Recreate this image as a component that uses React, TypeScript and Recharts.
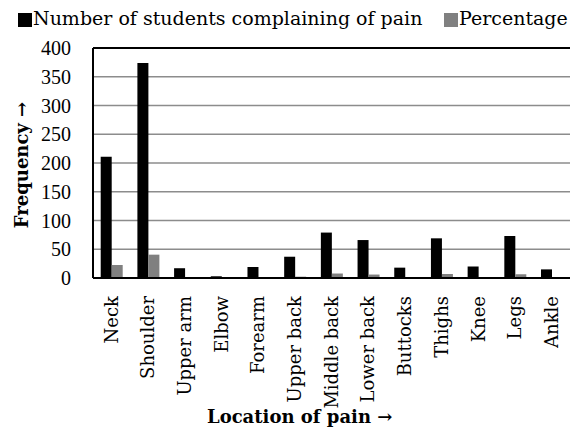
import { BarChart, Bar, XAxis, YAxis, CartesianGrid, ReferenceLine } from "recharts";

const locations = [
  "Neck",
  "Shoulder",
  "Upper arm",
  "Elbow",
  "Forearm",
  "Upper back",
  "Middle back",
  "Lower back",
  "Buttocks",
  "Thighs",
  "Knee",
  "Legs",
  "Ankle",
];
const students = [211, 374, 17, 3, 19, 37, 79, 66, 18, 69, 20, 73, 15];
const percentage = [22.6, 40.6, 0.5, 0.2, 0.8, 2.3, 7.8, 6, 0.5, 7, 0.5, 6.5, 0.5];
const yTicks = [0, 50, 100, 150, 200, 250, 300, 350, 400];

const data = locations.map((name, i) => ({
  name,
  students: students[i],
  percentage: percentage[i],
}));

const WORD_FONT = "'DejaVu Serif', serif";
const NUM_FONT = "'Liberation Serif', serif";

// rotated category labels reading bottom-to-top
const CategoryTick = (props: any) => {
  const { x, y, payload } = props;
  return (
    <text
      x={x}
      y={y}
      transform={`rotate(-90, ${x}, ${y})`}
      textAnchor="end"
      dy="0.35em"
      fontFamily={WORD_FONT}
      fontSize={18}
      fill="#000"
    >
      {payload.value}
    </text>
  );
};

export default function App() {
  return (
    <div
      style={{
        position: "absolute",
        left: 0,
        top: 0,
        width: 570,
        height: 434,
        background: "#fff",
        fontFamily: WORD_FONT,
      }}
    >
      {/* legend */}
      <div style={{ position: "absolute", top: 13, left: 18, width: 14, height: 14, background: "#000" }} />
      <div style={{ position: "absolute", top: 6, left: 33, fontSize: 19, lineHeight: "24px", whiteSpace: "nowrap" }}>
        Number of students complaining of pain
      </div>
      <div style={{ position: "absolute", top: 13, left: 444, width: 14, height: 14, background: "#808080" }} />
      <div style={{ position: "absolute", top: 6, left: 459, fontSize: 19, lineHeight: "24px", whiteSpace: "nowrap" }}>
        Percentage
      </div>

      <BarChart
        width={570}
        height={434}
        data={data}
        margin={{ top: 48, right: 0, left: 0, bottom: 30 }}
        barCategoryGap="21%"
        barGap={0}
      >
        <CartesianGrid vertical={false} stroke="#8c8c8c" strokeWidth={1.3} />
        <XAxis
          dataKey="name"
          interval={0}
          height={126}
          tick={<CategoryTick />}
          tickLine={false}
          tickMargin={12}
          axisLine={{ stroke: "#000", strokeWidth: 2 }}
        />
        <YAxis
          domain={[0, 400]}
          ticks={yTicks}
          width={93}
          tickLine={false}
          tickMargin={16}
          axisLine={{ stroke: "#000", strokeWidth: 2 }}
          tick={{ fontFamily: NUM_FONT, fontSize: 20, fill: "#000" }}
        />
        <ReferenceLine y={400} stroke="#000" strokeWidth={2} />
        <Bar dataKey="students" fill="#000" isAnimationActive={false} />
        <Bar dataKey="percentage" fill="#808080" isAnimationActive={false} />
      </BarChart>

      <span
        style={{
          position: "absolute",
          left: 21,
          top: 165,
          transform: "translate(-50%, -50%) rotate(-90deg)",
          fontWeight: "bold",
          fontSize: 18,
          whiteSpace: "nowrap",
        }}
      >
        Frequency →
      </span>
      <div
        style={{
          position: "absolute",
          left: 207,
          top: 406,
          fontWeight: "bold",
          fontSize: 18,
          whiteSpace: "nowrap",
        }}
      >
        Location of pain →
      </div>
    </div>
  );
}
